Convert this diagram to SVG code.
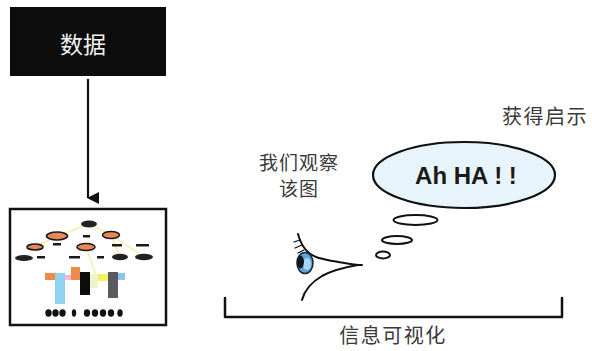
<svg xmlns="http://www.w3.org/2000/svg" width="592" height="351" viewBox="0 0 592 351">
  <style>
    .label { font-family: "Noto Sans CJK SC", "Liberation Sans", sans-serif; fill: #3a3a3a; }
    .ink { fill: none; stroke: #111; stroke-linecap: round; stroke-linejoin: round; }
    .node-dark { fill: #222; }
    .node-orange { fill: #e8875a; stroke: #1a1a1a; stroke-width: 1.6; }
    .dash { fill: #1a1a1a; }
    .link { stroke: #f4efa8; stroke-width: 1.4; fill: none; }
    .bubble { fill: #fff; stroke: #111; stroke-width: 2; }
  </style>
  <defs>
    <marker id="arrowhead" markerWidth="12" markerHeight="12" refX="6" refY="11" orient="auto" markerUnits="userSpaceOnUse" viewBox="0 0 12 12">
      <polygon points="0,0 12,0 6,12" fill="#111"/>
    </marker>
  </defs>

  <rect width="592" height="351" fill="#fff"/>

  <!-- data source -->
  <g id="data">
    <rect x="10" y="7" width="156" height="69" fill="#0c0c0c"/>
    <text x="83" y="53" class="label" style="fill:#f2f2f2" font-size="23" text-anchor="middle">数据</text>
  </g>

  <!-- connectors -->
  <g id="connectors">
    <line x1="88" y1="79" x2="88" y2="198" stroke="#111" stroke-width="2.2" marker-end="url(#arrowhead)"/>
  </g>

  <!-- chart panel -->
  <g id="chart">
    <rect x="10" y="209" width="156" height="116" fill="#fff" stroke="#111" stroke-width="2.5"/>
    <!-- tree links -->
    <path class="link" d="M89 224 L57 236 M89 224 L111 235 M111 235 L120 257 M111 235 L144 257 M57 236 L35 247 M86 247 L96 275"/>
    <!-- tree nodes -->
    <ellipse cx="89" cy="224" rx="8" ry="3.5" class="node-dark"/>
    <ellipse cx="57" cy="236" rx="10.5" ry="4" class="node-orange"/>
    <ellipse cx="111" cy="235" rx="8.5" ry="3.5" class="node-orange"/>
    <ellipse cx="35" cy="247" rx="8" ry="3" class="node-orange"/>
    <ellipse cx="86" cy="247" rx="9" ry="3.5" class="node-orange"/>
    <ellipse cx="24" cy="258" rx="9" ry="3" class="node-dark"/>
    <ellipse cx="120" cy="257" rx="8" ry="3.3" class="node-dark"/>
    <ellipse cx="144" cy="257" rx="9" ry="3.3" class="node-dark"/>
    <!-- short dashes -->
    <rect x="83" y="235" width="7" height="2.5" class="dash"/>
    <rect x="53" y="243" width="8" height="2.5" class="dash"/>
    <rect x="112" y="244" width="10" height="2.5" class="dash"/>
    <rect x="136" y="244" width="13" height="2.5" class="dash"/>
    <rect x="37" y="256" width="8" height="2.5" class="dash"/>
    <rect x="69" y="256" width="11" height="2.5" class="dash"/>
    <rect x="97" y="256" width="7" height="2.5" class="dash"/>
    <!-- bars -->
    <rect x="45" y="273" width="10" height="7" fill="#f08a4b"/>
    <rect x="55" y="273" width="10" height="31" fill="#8fd3f0"/>
    <rect x="65" y="275" width="7" height="5" fill="#f4b8d8"/>
    <rect x="71" y="267" width="9" height="13" fill="#f08a4b"/>
    <rect x="80" y="272" width="10" height="23" fill="#0d0d0d"/>
    <rect x="90" y="274" width="8" height="14" fill="#eef5c8"/>
    <rect x="98" y="274" width="10" height="7" fill="#f5f25a"/>
    <rect x="108" y="272" width="10" height="26" fill="#5a5a60"/>
    <rect x="118" y="273" width="7" height="7" fill="#8cc4f0"/>
    <!-- dot row -->
    <g fill="#111">
      <ellipse cx="48.5" cy="313" rx="3.2" ry="3.7"/>
      <ellipse cx="55.5" cy="313" rx="3.2" ry="3.7"/>
      <ellipse cx="62.5" cy="313" rx="3.2" ry="3.7"/>
      <ellipse cx="74" cy="313" rx="2.2" ry="3.7"/>
      <ellipse cx="87" cy="313" rx="3.2" ry="3.7"/>
      <ellipse cx="95" cy="313" rx="3.2" ry="3.7"/>
      <ellipse cx="103" cy="313" rx="3.2" ry="3.7"/>
      <ellipse cx="111" cy="313" rx="3.2" ry="3.7"/>
      <ellipse cx="120" cy="313" rx="2.7" ry="3.7"/>
    </g>
  </g>

  <!-- observer caption -->
  <g id="observe">
    <text x="299" y="170" class="label" font-size="19" text-anchor="middle" letter-spacing="1">我们观察</text>
    <text x="299" y="196" class="label" font-size="19" text-anchor="middle" letter-spacing="1">该图</text>
  </g>

  <!-- eye -->
  <g id="eye">
    <path class="ink" stroke-width="2" d="M298 234 C301 246 306 253 316 257 C328 261 344 263 358 265"/>
    <path class="ink" stroke-width="2" d="M302 300 C304 292 310 283 322 276 C333 270 346 267 358 265 L362 265"/>
    <path class="ink" stroke-width="1.3" d="M300 240 L294 242 M302 245 L295 248 M304 250 L298 253"/>
    <ellipse cx="305" cy="263" rx="8" ry="10.5" fill="#5fa6dc" stroke="#1b2b3b" stroke-width="1.6"/>
    <ellipse cx="307" cy="264" rx="4" ry="6" fill="#a9d4f2"/>
    <ellipse cx="300.5" cy="262" rx="3.5" ry="6.5" fill="#101820"/>
  </g>

  <!-- thought -->
  <g id="thought">
    <ellipse cx="383" cy="255" rx="7" ry="3.5" class="bubble" stroke-width="1.8"/>
    <ellipse cx="397" cy="240" rx="15" ry="4" class="bubble" stroke-width="1.8"/>
    <ellipse cx="415.5" cy="220" rx="22" ry="5" class="bubble" stroke-width="1.8"/>
    <ellipse cx="464" cy="175" rx="91" ry="33" fill="#e8f4fb" stroke="#111" stroke-width="2.2"/>
    <text x="466" y="184" font-family="Liberation Sans, Arial, sans-serif" font-weight="bold" font-size="24" fill="#1a1a1a" text-anchor="middle">Ah HA ! !</text>
  </g>

  <g id="insight">
    <text x="545" y="124" class="label" font-size="20" text-anchor="middle" letter-spacing="1.5">获得启示</text>
  </g>

  <!-- visualization bracket -->
  <g id="visualization">
    <path class="ink" stroke-width="2.5" stroke-linecap="butt" d="M225 298 V317 H562 V298"/>
    <text x="393" y="343" class="label" font-size="20" text-anchor="middle" letter-spacing="1.5">信息可视化</text>
  </g>
</svg>
